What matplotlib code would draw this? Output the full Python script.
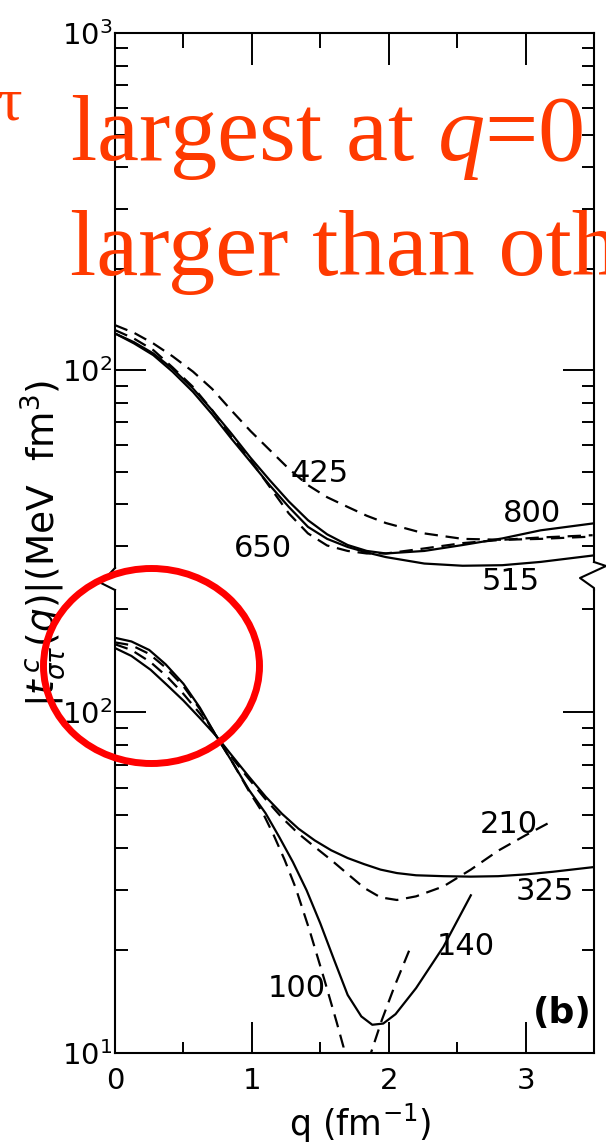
import matplotlib
matplotlib.use("Agg")
import matplotlib.pyplot as plt
from matplotlib.ticker import MultipleLocator, LogLocator, NullFormatter, FixedLocator
from matplotlib.patches import Ellipse
from matplotlib.lines import Line2D

plt.rcParams['font.family'] = ['DejaVu Sans']
plt.rcParams['mathtext.fontset'] = 'dejavusans'
plt.rcParams['mathtext.rm'] = 'Liberation Serif'
plt.rcParams['mathtext.it'] = 'Liberation Serif:italic'

# ---------------- data ----------------
# upper set of curves
q_up = [0, 0.14, 0.28, 0.42, 0.57, 0.71, 0.85, 0.99, 1.13, 1.27, 1.41, 1.55,
        1.70, 1.84, 1.98, 2.26, 2.54, 2.83, 3.11, 3.49]
v425 = [136, 129, 120, 110, 99, 88, 76, 66, 58, 51, 45.6, 42, 39.3, 37, 35.2,
        32.8, 31.6, 31.4, 31.6, 32.1]
v650 = [131.5, 124, 114.7, 102, 89.2, 76.1, 63.4, 54.1, 45.1, 37.6, 32.8, 30.2,
        29.1, 28.6, 28.6, 29.6, 30.7, 31.4, 31.9, 32.4]
v800 = [128.5, 121, 112.1, 101, 88.2, 76, 64.9, 55, 47.2, 40.8, 35.9, 32.6,
        30.3, 29.1, 28.6, 29.1, 30.3, 31.7, 33.5, 35.1]
v515 = [128.5, 120, 110.8, 99, 86.2, 74, 62.7, 53.5, 45.6, 39.3, 34.3, 31.6,
        29.9, 28.8, 27.9, 26.7, 26.3, 26.4, 27.0, 28.2]

# lower set of curves
q325 = [0, 0.12, 0.25, 0.37, 0.5, 0.62, 0.74, 0.86, 0.98, 1.1, 1.22, 1.34, 1.46,
        1.58, 1.7, 1.82, 1.94, 2.06, 2.2, 2.4, 2.6, 2.8, 3.0, 3.2, 3.5]
v325 = [165, 161, 152, 138, 121, 103, 85, 74, 64.5, 56.5, 50.3, 45.5, 42, 39.3,
        37.3, 35.8, 34.5, 33.7, 33.2, 33.0, 32.9, 33.0, 33.4, 34.0, 35.1]
q210 = [0, 0.12, 0.25, 0.37, 0.5, 0.62, 0.74, 0.86, 0.98, 1.1, 1.22, 1.34, 1.46,
        1.58, 1.7, 1.82, 1.94, 2.06, 2.2, 2.4, 2.6, 2.8, 3.0, 3.17]
v210 = [160, 157, 148, 135, 119, 102, 85, 73, 63.5, 55.5, 49, 44, 40.2, 36.8,
        33.5, 30.5, 28.6, 28.1, 28.8, 30.8, 34.5, 39.2, 43.5, 47.3]
q140 = [0, 0.12, 0.26, 0.38, 0.5, 0.62, 0.74, 0.86, 0.98, 1.1, 1.2, 1.3, 1.4,
        1.5, 1.6, 1.7, 1.8, 1.88, 1.96, 2.05, 2.2, 2.4, 2.6]
v140 = [154, 146, 133, 120, 108, 96, 85, 71, 59, 50.5, 43, 36.3, 30, 24, 18.8,
        14.8, 12.8, 12.1, 12.2, 13.0, 15.5, 20.5, 29]
q100 = [0, 0.12, 0.26, 0.38, 0.5, 0.62, 0.74, 0.86, 0.98, 1.08, 1.16, 1.24, 1.32,
        1.42, 1.53, 1.62, 1.67, 1.78, 1.87, 1.95, 2.04, 2.15]
v100 = [158, 152, 140, 127, 113, 99, 85, 71, 58.5, 50.6, 43.5, 36.8, 30.5, 23,
        16.4, 12.3, 10.4, 2.0, 10.0, 12.5, 15.6, 20.0]

x_ticks = [0, 1, 2, 3]
x_ticklabels = ['0', '1', '2', '3']

# ---------------- figure ----------------
W, H = 606, 1146
def fx(x):
    return x / W
def fy(y):
    return 1 - y / H

fig = plt.figure(figsize=(6.06, 11.46), dpi=100)
L, R = 115, 594
ax_up = fig.add_axes([fx(L), fy(568), (R - L) / W, (568 - 33) / H])
ax_lo = fig.add_axes([fx(L), fy(1053), (R - L) / W, (1053 - 590) / H])

lw = 1.6
dash = (6, 3.5)
ax_up.plot(q_up, v425, color='k', lw=lw, dashes=dash)
ax_up.plot(q_up, v650, color='k', lw=lw, dashes=dash)
ax_up.plot(q_up, v800, color='k', lw=lw)
ax_up.plot(q_up, v515, color='k', lw=lw)

ax_lo.plot(q325, v325, color='k', lw=lw)
ax_lo.plot(q210, v210, color='k', lw=lw, dashes=dash)
ax_lo.plot(q140, v140, color='k', lw=lw)
ax_lo.plot(q100, v100, color='k', lw=lw, dashes=dash)

for ax in (ax_up, ax_lo):
    ax.set_yscale('log')
    ax.set_xlim(0, 3.5)
    ax.xaxis.set_major_locator(FixedLocator(x_ticks))
    ax.xaxis.set_minor_locator(MultipleLocator(0.5))
    ax.yaxis.set_minor_locator(LogLocator(base=10, subs=[2, 3, 4, 5, 6, 7, 8, 9]))
    ax.yaxis.set_minor_formatter(NullFormatter())
    for s in ax.spines.values():
        s.set_linewidth(1.5)
    ax.tick_params(axis='y', which='both', direction='in', left=True, right=True,
                   width=1.4, labelsize=21, pad=2)
    ax.tick_params(axis='y', which='major', length=22)
    ax.tick_params(axis='y', which='minor', length=9)

ax_up.set_ylim(25.9, 1000)
ax_lo.set_ylim(10, 227.9)

ax_up.spines['bottom'].set_visible(False)
ax_lo.spines['top'].set_visible(False)
ax_up.spines['right'].set_bounds(27.0, 1000)

ax_up.tick_params(axis='x', which='both', direction='in', top=True, bottom=False,
                  labeltop=False, labelbottom=False, width=1.4)
ax_up.tick_params(axis='x', which='major', length=23)
ax_up.tick_params(axis='x', which='minor', length=11)

ax_lo.tick_params(axis='x', which='both', direction='in', top=False, bottom=True,
                  width=1.4, labelsize=21, pad=10)
ax_lo.tick_params(axis='x', which='major', length=22)
ax_lo.tick_params(axis='x', which='minor', length=8)
ax_lo.set_xticklabels(x_ticklabels, fontsize=21)

# break marks
fig.add_artist(Line2D([fx(115), fx(101), fx(115)], [fy(568), fy(583), fy(590)],
                      transform=fig.transFigure, color='k', lw=1.5))
fig.add_artist(Line2D([fx(594), fx(606), fx(580), fx(594), fx(594)],
                      [fy(562), fy(566), fy(578), fy(588), fy(590)],
                      transform=fig.transFigure, color='k', lw=1.5))

# curve labels
lab_kw = dict(fontsize=22, ha='left', va='baseline', color='k')
curve_labels = [('425', 291, 482), ('650', 234, 557), ('800', 503, 522),
                ('515', 482, 590), ('210', 480, 833), ('325', 516, 900),
                ('140', 437, 955), ('100', 268, 997)]
for t, x, y in curve_labels:
    fig.text(fx(x), fy(y), t, **lab_kw)
fig.text(fx(562), fy(1013), '(b)', fontsize=26, fontweight='bold', ha='center',
         va='center')

# axis labels
fig.text(fx(360), fy(1136), r'q (fm$^{-1}$)', fontsize=25, ha='center', va='baseline')
fig.text(fx(43), fy(543), r'$|t^{\,c}_{\sigma\tau}(q)|$(MeV  fm$^3$)', fontsize=27,
         rotation=90, ha='center', va='center')

# red overlay
red = '#ff3a00'
fig.text(fx(70), fy(160), r'largest at $q$=0', fontsize=68, family='Liberation Serif',
         math_fontfamily='custom', color=red, va='baseline', ha='left', zorder=20)
fig.text(fx(70), fy(275), 'larger than others', fontsize=68, family='Liberation Serif',
         color=red, va='baseline', ha='left', zorder=20)
fig.text(fx(-2), fy(120), '\u03c4', fontsize=44, family='Liberation Serif',
         color=red, va='baseline', ha='left', zorder=20)
fig.add_artist(Ellipse((fx(151.5), fy(666)), 216 / W, 195 / H, transform=fig.transFigure,
                       fill=False, ec='#ff0000', lw=5, zorder=25))

fig.savefig('out.png', dpi=100)
